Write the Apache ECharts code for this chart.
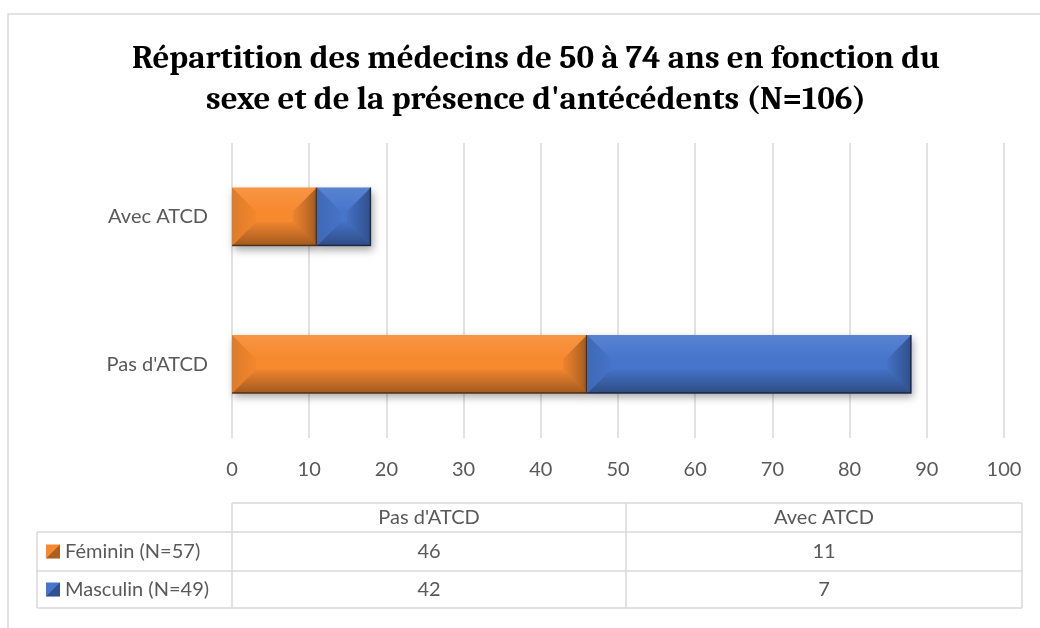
<!DOCTYPE html>
<html>
<head>
<meta charset="utf-8">
<script src="https://cdn.jsdelivr.net/npm/echarts@6/dist/echarts.min.js"></script>
<style>
  html, body { margin: 0; padding: 0; background: #fff; }
  #main { width: 1040px; height: 628px; }
</style>
</head>
<body>
<div id="main"></div>
<script>
// données
const categories = ["Pas d'ATCD", 'Avec ATCD'];
const seriesNames = ['Féminin (N=57)', 'Masculin (N=49)'];
const feminin = [46, 11];
const masculin = [42, 7];
const colors = ['#F7892F', '#4675CB'];

const labelFont = 'Lato, "Open Sans", sans-serif';
const gray = '#595959';
const lineGray = '#d9d9d9';

// empilement fait a la main pour la serie custom (effet biseau)
function stackData(vals, base) {
  return vals.map(function (v, i) {
    const start = base ? base[i] : 0;
    return [i, start, start + v, v];
  });
}
const femData = stackData(feminin);
const mascData = stackData(masculin, feminin);

function grad(x, y, x2, y2, a0, a1, rgb) {
  return new echarts.graphic.LinearGradient(x, y, x2, y2, [
    { offset: 0, color: 'rgba(' + rgb + ',' + a0 + ')' },
    { offset: 1, color: 'rgba(' + rgb + ',' + a1 + ')' }
  ]);
}

function bevelBar(color) {
  return function (params, api) {
    const cat = api.value(0);
    const p0 = api.coord([api.value(1), cat]);
    const p1 = api.coord([api.value(2), cat]);
    const band = api.size([0, 1])[1];
    const h = band * 0.395;
    const x0 = p0[0], x1 = p1[0];
    const y0 = p0[1] - h / 2, y1 = p0[1] + h / 2;
    const w = x1 - x0;
    const b = Math.min(24, h / 2 - 3, w / 2);
    const ix0 = x0 + b, ix1 = x1 - b, iy0 = y0 + b, iy1 = y1 - b;
    return {
      type: 'group',
      children: [
        { type: 'rect', shape: { x: x0, y: y0, width: w, height: h },
          style: { fill: color, shadowBlur: 8, shadowOffsetX: 2, shadowOffsetY: 4, shadowColor: 'rgba(0,0,0,0.35)' } },
        // haut : leger reflet
        { type: 'polygon', shape: { points: [[x0, y0], [x1, y0], [ix1, iy0], [ix0, iy0]] },
          style: { fill: grad(0, 0, 0, 1, 0.10, 0, '255,255,255') } },
        // gauche
        { type: 'polygon', shape: { points: [[x0, y0], [ix0, iy0], [ix0, iy1], [x0, y1]] },
          style: { fill: grad(0, 0, 1, 0, 0.10, 0.02, '0,0,0') } },
        // droite
        { type: 'polygon', shape: { points: [[x1, y0], [x1, y1], [ix1, iy1], [ix1, iy0]] },
          style: { fill: grad(0, 0, 1, 0, 0.04, 0.32, '0,0,0') } },
        // bas
        { type: 'polygon', shape: { points: [[x0, y1], [ix0, iy1], [ix1, iy1], [x1, y1]] },
          style: { fill: grad(0, 0, 0, 1, 0.03, 0.35, '0,0,0') } },
        { type: 'polyline', shape: { points: [[x1 - 0.5, y0], [x1 - 0.5, y1 - 0.5], [x0, y1 - 0.5]] },
          style: { stroke: 'rgba(0,0,0,0.5)', lineWidth: 1.5, fill: null } }
      ]
    };
  };
}

// tableau de donnees sous le graphique
const colX = [37, 232, 626, 1022];
const rowY = [503, 532, 571, 608];
function buildTable() {
  const els = [];
  const line = function (x1, y1, x2, y2) {
    els.push({ type: 'line', shape: { x1: x1, y1: y1, x2: x2, y2: y2 },
      style: { stroke: lineGray, lineWidth: 1.5 } });
  };
  const text = function (t, x, y, align) {
    els.push({ type: 'text', x: x, y: y,
      style: { text: t, fill: gray, font: '20px ' + labelFont, textAlign: align || 'center', textVerticalAlign: 'middle' } });
  };
  // lignes horizontales
  line(colX[1], rowY[0], colX[3], rowY[0]);
  line(colX[0], rowY[1], colX[3], rowY[1]);
  line(colX[0], rowY[2], colX[3], rowY[2]);
  line(colX[0], rowY[3], colX[3], rowY[3]);
  // lignes verticales
  line(colX[0], rowY[1], colX[0], rowY[3]);
  line(colX[1], rowY[0], colX[1], rowY[3]);
  line(colX[2], rowY[0], colX[2], rowY[3]);
  line(colX[3], rowY[0], colX[3], rowY[3]);
  // en-tetes
  categories.forEach(function (c, j) {
    text(c, (colX[j + 1] + colX[j + 2]) / 2, (rowY[0] + rowY[1]) / 2);
  });
  const rows = [feminin, masculin];
  rows.forEach(function (vals, r) {
    const yc = (rowY[r + 1] + rowY[r + 2]) / 2;
    // cle de legende
    els.push({ type: 'rect', shape: { x: 46, y: yc - 7, width: 14, height: 14 }, style: { fill: colors[r] } });
    els.push({ type: 'polygon', shape: { points: [[60, yc - 7], [60, yc + 7], [46, yc + 7]] }, style: { fill: 'rgba(0,0,0,0.3)' } });
    text(seriesNames[r], 65, yc, 'left');
    vals.forEach(function (v, j) {
      text(String(v), (colX[j + 1] + colX[j + 2]) / 2, yc);
    });
  });
  return els;
}

const chart = echarts.init(document.getElementById('main'));
chart.setOption({
  backgroundColor: '#fff',
  animation: false,
  title: {
    text: "Répartition des médecins de 50 à 74 ans en fonction du\nsexe et de la présence d'antécédents (N=106)",
    left: 531,
    top: 33,
    textAlign: 'center',
    textStyle: {
      fontFamily: 'Cambria, "Liberation Serif", serif',
      fontWeight: 'bold',
      fontSize: 33,
      lineHeight: 41,
      color: '#000'
    }
  },
  grid: { left: 232, right: 36, top: 143, bottom: 190 },
  xAxis: {
    type: 'value',
    min: 0,
    max: 100,
    interval: 10,
    axisLine: { show: false },
    axisTick: { show: false },
    axisLabel: { color: gray, fontSize: 20, fontFamily: labelFont, margin: 22 },
    splitLine: { lineStyle: { color: lineGray, width: 1.5 } }
  },
  yAxis: {
    type: 'category',
    data: categories,
    axisLine: { show: false },
    axisTick: { show: false },
    axisLabel: { color: gray, fontSize: 20, fontFamily: labelFont, margin: 24 }
  },
  series: [
    { type: 'custom', name: seriesNames[0], renderItem: bevelBar(colors[0]),
      encode: { x: [1, 2], y: 0 }, data: femData },
    { type: 'custom', name: seriesNames[1], renderItem: bevelBar(colors[1]),
      encode: { x: [1, 2], y: 0 }, data: mascData }
  ],
  graphic: [
    { type: 'rect', shape: { x: 8, y: 14, width: 1100, height: 700 }, silent: true,
      style: { fill: null, stroke: lineGray, lineWidth: 1.5 } }
  ].concat(buildTable())
});
</script>
</body>
</html>
